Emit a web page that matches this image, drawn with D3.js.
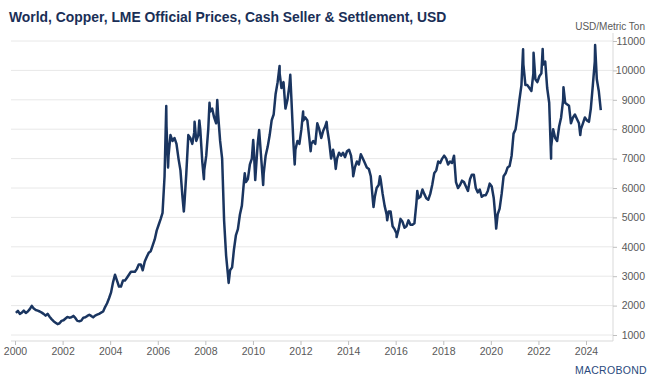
<!DOCTYPE html>
<html><head><meta charset="utf-8">
<script src="https://cdn.jsdelivr.net/npm/d3@7/dist/d3.min.js"></script>
<style>
html,body{margin:0;padding:0;background:#fff;}
svg{display:block;font-family:"Liberation Sans",Arial,sans-serif;}
</style></head>
<body><svg id="c" width="652" height="381"></svg>
<script>
const titleText = "World, Copper, LME Official Prices, Cash Seller & Settlement, USD";
const unitText = "USD/Metric Ton";
const yTicks = [1000,2000,3000,4000,5000,6000,7000,8000,9000,10000,11000];
const xTickYears = [2000,2002,2004,2006,2008,2010,2012,2014,2016,2018,2020,2022,2024];
const startYear = 2000;
// mid-month readings, Jan 2000 .. Aug 2024 (USD/metric ton)
const values2000_2004 = [
 1750,1820,1720,1760,1830,1750,1800,1880,1990,1900,1850,1830,
 1800,1760,1720,1660,1720,1620,1540,1470,1420,1370,1400,1480,
 1500,1560,1610,1590,1600,1650,1580,1480,1470,1490,1590,1600,
 1650,1690,1650,1600,1660,1690,1720,1760,1800,1950,2080,2250,
 2450,2800,3050,2850,2650,2650,2850,2850,2950,3050,3150,3150];
const values2005_2009 = [
 3150,3250,3400,3400,3200,3500,3650,3800,3850,4050,4250,4550,
 4750,4950,5150,6400,8100,7100,7800,7600,7700,7500,7000,6600,
 5700,5500,6500,7800,7700,7500,7900,7600,7800,8000,6900,6600,
 7100,8000,8600,8700,8400,8200,8500,7600,7000,4900,3700,3000,
 3200,3300,3900,4400,4600,5100,5400,6200,6200,6300,6800,7000];
const values2010_2014 = [
 7300,6600,7500,7700,6800,6500,7100,7400,7800,8300,8500,9200,
 9600,9900,9400,9600,8700,9000,9500,9000,7500,7300,7600,7500,
 8000,8300,8400,8300,7700,7500,7600,7500,8200,8000,7700,7950,
 8100,8000,7600,7000,7300,6900,7000,7200,7100,7200,7050,7250,
 7300,7100,6600,6700,6900,6800,7150,7000,6850,6700,6650,6400];
const values2015_2019 = [
 5600,5700,6000,6100,6300,5800,5400,5100,5200,5200,4700,4600,
 4450,4600,4950,4850,4650,4700,4900,4750,4750,4800,5500,5650,
 5700,5950,5800,5650,5600,5800,6100,6500,6600,6900,6850,7000,
 7100,7000,6800,6900,6850,7100,6200,6000,6100,6250,6200,6050,
 5900,6300,6450,6450,6000,5850,5950,5700,5750,5750,5900,6150];
const values2020_2024 = [
 6050,5650,4900,5100,5300,5800,6400,6500,6700,6750,7100,7850,
 8000,8500,9000,9500,10200,9500,9500,9400,9300,9900,9700,9600,
 9800,9900,10200,10300,9400,8900,7400,8000,7700,7600,8100,8400,
 9000,8900,8850,8800,8200,8400,8500,8350,8200,8000,8200,8400,
 8300,8250,8700,9500,10300,9700,9300,8650];
// extra daily readings at visible spikes and troughs
const spikeDates = ["2006-05-11","2006-06-08","2007-02-05","2007-07-20","2007-10-01","2007-12-10","2008-03-05","2008-07-02","2008-12-24","2009-08-28","2010-01-05","2010-02-05","2010-04-06","2010-06-07","2011-02-14","2011-07-28","2011-10-04","2012-02-10","2012-06-05","2013-02-05","2013-06-25","2014-03-20","2015-01-26","2015-05-05","2015-08-24","2016-01-15","2016-11-28","2020-03-23","2021-05-10","2021-10-18","2022-03-07","2022-07-14","2023-01-20","2023-10-05","2024-05-20"];
const spikeValues = [8790,6700,5200,8250,8300,6300,8900,8990,2770,6500,7630,6270,7970,6100,10150,9850,6800,8600,7250,8250,6650,6400,5350,6400,4900,4330,5900,4620,10720,10600,10730,7000,9430,7800,10860];

const monthly = [].concat(values2000_2004, values2005_2009, values2010_2014, values2015_2019, values2020_2024)
  .map((v,i)=>({date:new Date(startYear + Math.floor(i/12), i%12, 15), value:v}));
const parse = d3.timeParse("%Y-%m-%d");
const spikes = spikeDates.map((s,i)=>({date:parse(s), value:spikeValues[i]}));
const data = monthly.concat(spikes).sort((a,b)=>a.date-b.date);

const svg = d3.select("#c");
const L = 11, R = 613, T = 41, B = 335, axisY = 341;
const x = d3.scaleTime().domain([new Date(2000,0,1), new Date(2024,0,1)]).range([15,586]);
const y = d3.scaleLinear().domain([1000,11000]).range([B,T]);

// gridlines
svg.append("g").selectAll("line").data(yTicks).join("line")
  .attr("x1",L).attr("x2",R).attr("y1",d=>y(d)).attr("y2",d=>y(d))
  .attr("stroke","#e8e8e8").attr("stroke-width",1);

// right axis
const yAxis = d3.axisRight(y).tickValues(yTicks).tickSize(4).tickFormat(d3.format("d"));
const gy = svg.append("g").attr("transform",`translate(${R},0)`).call(yAxis);
gy.select(".domain").attr("stroke","#d9d9d9").attr("d",`M0,${T-8}V${axisY}`);
gy.selectAll(".tick line").attr("stroke","#bfbfbf");
gy.selectAll(".tick text").attr("x",32).attr("text-anchor","end")
  .attr("fill","#595959").style("font-size","10.5px").style("font-family","Liberation Sans, Arial, sans-serif");

// bottom axis
const xAxis = d3.axisBottom(x).tickValues(xTickYears.map(yr=>new Date(yr,0,1))).tickSize(4).tickFormat(d3.timeFormat("%Y"));
const gx = svg.append("g").attr("transform",`translate(0,${axisY})`).call(xAxis);
gx.select(".domain").attr("stroke","#d9d9d9").attr("d",`M${L},0H${R}`);
gx.selectAll(".tick line").attr("stroke","#bfbfbf");
gx.selectAll(".tick text").attr("fill","#595959").attr("y",7)
  .style("font-size","10.5px").style("font-family","Liberation Sans, Arial, sans-serif");

// line
svg.append("path").datum(data)
  .attr("fill","none").attr("stroke","#1a3560").attr("stroke-width",2.5)
  .attr("stroke-linejoin","round")
  .attr("d", d3.line().x(d=>x(d.date)).y(d=>y(d.value)));

// title
svg.append("text").attr("x",9).attr("y",22).text(titleText)
  .attr("fill","#1a2f57").style("font-weight","bold").style("font-size","13.9px");
svg.append("text").attr("x",645).attr("y",30).attr("text-anchor","end").text(unitText)
  .attr("fill","#595959").style("font-size","10px");

// logo
svg.append("text").attr("x",647).attr("y",374).attr("text-anchor","end").text("MACROBOND")
  .attr("fill","#2a4a7d").style("font-size","10.5px").style("letter-spacing","0.3px");
</script></body></html>
